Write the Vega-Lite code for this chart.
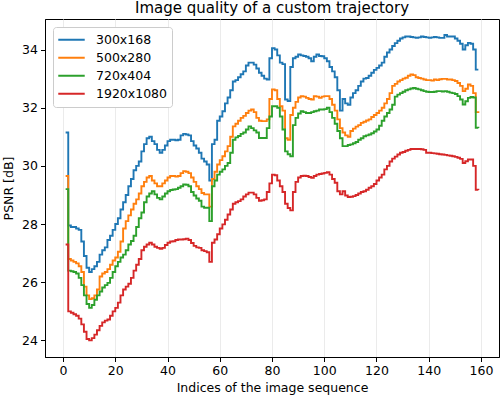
{
 "$schema": "https://vega.github.io/schema/vega-lite/v6.json",
 "width": 454,
 "height": 338,
 "autosize": {"type": "none"},
 "padding": {"left": 45, "top": 19, "right": 2, "bottom": 39},
 "background": "white",
 "title": {"text": "Image quality of a custom trajectory", "fontSize": 15, "font": "DejaVu Sans", "fontWeight": "normal", "color": "black", "anchor": "middle", "offset": 3},
 "config": {
  "view": {"stroke": "black", "strokeWidth": 1},
  "axis": {"domainColor": "black", "domainWidth": 1, "tickColor": "black", "tickSize": 4.5, "tickWidth": 1, "labelFont": "DejaVu Sans", "labelFontSize": 12.5, "labelColor": "black", "labelPadding": 3, "titleFont": "DejaVu Sans", "titleFontSize": 12.5, "titleFontWeight": "normal", "titleColor": "black", "gridColor": "#ebebeb", "gridWidth": 1, "labelFlush": false, "labelOverlap": false}
 },
 "data": {"values": [
{"i":1,"300x168":31.15,"500x280":29.65,"720x404":29.2,"1920x1080":27.3},
{"i":2,"300x168":27.95,"500x280":26.8,"720x404":26.4,"1920x1080":25.0},
{"i":3,"300x168":27.9,"500x280":26.75,"720x404":26.38,"1920x1080":24.95},
{"i":4,"300x168":27.9,"500x280":26.7,"720x404":26.35,"1920x1080":24.9},
{"i":5,"300x168":27.85,"500x280":26.65,"720x404":26.3,"1920x1080":24.85},
{"i":6,"300x168":27.8,"500x280":26.55,"720x404":26.15,"1920x1080":24.75},
{"i":7,"300x168":27.4,"500x280":26.35,"720x404":25.9,"1920x1080":24.55},
{"i":8,"300x168":26.9,"500x280":25.85,"720x404":25.55,"1920x1080":24.3},
{"i":9,"300x168":26.5,"500x280":25.55,"720x404":25.25,"1920x1080":24.05},
{"i":10,"300x168":26.35,"500x280":25.42,"720x404":25.12,"1920x1080":24.0},
{"i":11,"300x168":26.45,"500x280":25.45,"720x404":25.22,"1920x1080":24.08},
{"i":12,"300x168":26.55,"500x280":25.55,"720x404":25.4,"1920x1080":24.2},
{"i":13,"300x168":26.7,"500x280":25.75,"720x404":25.55,"1920x1080":24.35},
{"i":14,"300x168":26.95,"500x280":26.2,"720x404":25.68,"1920x1080":24.5},
{"i":15,"300x168":27.1,"500x280":26.3,"720x404":25.82,"1920x1080":24.62},
{"i":16,"300x168":27.2,"500x280":26.35,"720x404":25.9,"1920x1080":24.68},
{"i":17,"300x168":27.45,"500x280":26.45,"720x404":25.98,"1920x1080":24.72},
{"i":18,"300x168":27.6,"500x280":26.6,"720x404":26.15,"1920x1080":24.85},
{"i":19,"300x168":27.8,"500x280":26.75,"720x404":26.35,"1920x1080":25.0},
{"i":20,"300x168":28.0,"500x280":26.85,"720x404":26.55,"1920x1080":25.12},
{"i":21,"300x168":28.2,"500x280":27.05,"720x404":26.7,"1920x1080":25.3},
{"i":22,"300x168":28.5,"500x280":27.4,"720x404":26.85,"1920x1080":25.55},
{"i":23,"300x168":28.75,"500x280":27.85,"720x404":26.95,"1920x1080":25.75},
{"i":24,"300x168":29.0,"500x280":28.1,"720x404":27.1,"1920x1080":25.85},
{"i":25,"300x168":29.3,"500x280":28.3,"720x404":27.3,"1920x1080":25.95},
{"i":26,"300x168":29.55,"500x280":28.5,"720x404":27.42,"1920x1080":26.15},
{"i":27,"300x168":29.85,"500x280":28.7,"720x404":27.6,"1920x1080":26.4},
{"i":28,"300x168":30.0,"500x280":28.85,"720x404":27.9,"1920x1080":26.6},
{"i":29,"300x168":30.15,"500x280":29.05,"720x404":28.2,"1920x1080":26.8},
{"i":30,"300x168":30.5,"500x280":29.3,"720x404":28.4,"1920x1080":27.1},
{"i":31,"300x168":30.75,"500x280":29.45,"720x404":28.75,"1920x1080":27.22},
{"i":32,"300x168":30.95,"500x280":29.6,"720x404":28.95,"1920x1080":27.3},
{"i":33,"300x168":31.0,"500x280":29.65,"720x404":29.05,"1920x1080":27.36},
{"i":34,"300x168":30.85,"500x280":29.5,"720x404":29.13,"1920x1080":27.3},
{"i":35,"300x168":30.75,"500x280":29.4,"720x404":29.02,"1920x1080":27.22},
{"i":36,"300x168":30.55,"500x280":29.3,"720x404":28.9,"1920x1080":27.18},
{"i":37,"300x168":30.45,"500x280":29.3,"720x404":28.85,"1920x1080":27.15},
{"i":38,"300x168":30.55,"500x280":29.4,"720x404":28.95,"1920x1080":27.18},
{"i":39,"300x168":30.7,"500x280":29.5,"720x404":29.05,"1920x1080":27.28},
{"i":40,"300x168":30.85,"500x280":29.6,"720x404":29.13,"1920x1080":27.36},
{"i":41,"300x168":30.9,"500x280":29.65,"720x404":29.17,"1920x1080":27.4},
{"i":42,"300x168":30.9,"500x280":29.65,"720x404":29.19,"1920x1080":27.41},
{"i":43,"300x168":30.88,"500x280":29.63,"720x404":29.2,"1920x1080":27.45},
{"i":44,"300x168":30.9,"500x280":29.65,"720x404":29.25,"1920x1080":27.47},
{"i":45,"300x168":31.05,"500x280":29.75,"720x404":29.3,"1920x1080":27.47},
{"i":46,"300x168":31.1,"500x280":29.82,"720x404":29.36,"1920x1080":27.48},
{"i":47,"300x168":31.08,"500x280":29.8,"720x404":29.35,"1920x1080":27.5},
{"i":48,"300x168":31.05,"500x280":29.75,"720x404":29.3,"1920x1080":27.45},
{"i":49,"300x168":30.85,"500x280":29.6,"720x404":29.1,"1920x1080":27.35},
{"i":50,"300x168":30.7,"500x280":29.45,"720x404":28.98,"1920x1080":27.25},
{"i":51,"300x168":30.6,"500x280":29.3,"720x404":28.88,"1920x1080":27.2},
{"i":52,"300x168":30.45,"500x280":29.2,"720x404":28.8,"1920x1080":27.18},
{"i":53,"300x168":30.25,"500x280":29.07,"720x404":28.6,"1920x1080":27.1},
{"i":54,"300x168":30.15,"500x280":29.02,"720x404":28.56,"1920x1080":27.07},
{"i":55,"300x168":30.05,"500x280":29.02,"720x404":28.56,"1920x1080":27.03},
{"i":56,"300x168":29.5,"500x280":28.6,"720x404":28.1,"1920x1080":26.7},
{"i":57,"300x168":30.75,"500x280":29.55,"720x404":29.3,"1920x1080":27.36},
{"i":58,"300x168":30.9,"500x280":29.8,"720x404":29.5,"1920x1080":27.47},
{"i":59,"300x168":31.55,"500x280":30.05,"720x404":29.7,"1920x1080":27.65},
{"i":60,"300x168":31.7,"500x280":30.2,"720x404":29.8,"1920x1080":27.85},
{"i":61,"300x168":31.88,"500x280":30.33,"720x404":29.88,"1920x1080":27.99},
{"i":62,"300x168":32.15,"500x280":30.5,"720x404":30.0,"1920x1080":28.15},
{"i":63,"300x168":32.35,"500x280":30.68,"720x404":30.1,"1920x1080":28.33},
{"i":64,"300x168":32.6,"500x280":31.0,"720x404":30.45,"1920x1080":28.5},
{"i":65,"300x168":32.9,"500x280":31.36,"720x404":30.9,"1920x1080":28.7},
{"i":66,"300x168":32.95,"500x280":31.45,"720x404":30.98,"1920x1080":28.75},
{"i":67,"300x168":33.05,"500x280":31.55,"720x404":31.03,"1920x1080":28.79},
{"i":68,"300x168":33.15,"500x280":31.65,"720x404":31.1,"1920x1080":28.85},
{"i":69,"300x168":33.25,"500x280":31.72,"720x404":31.15,"1920x1080":28.95},
{"i":70,"300x168":33.45,"500x280":31.82,"720x404":31.25,"1920x1080":29.02},
{"i":71,"300x168":33.55,"500x280":31.9,"720x404":31.36,"1920x1080":29.08},
{"i":72,"300x168":33.55,"500x280":31.94,"720x404":31.3,"1920x1080":29.08},
{"i":73,"300x168":33.48,"500x280":31.85,"720x404":31.22,"1920x1080":29.02},
{"i":74,"300x168":33.35,"500x280":31.65,"720x404":31.15,"1920x1080":28.9},
{"i":75,"300x168":33.2,"500x280":31.55,"720x404":30.96,"1920x1080":28.8},
{"i":76,"300x168":33.1,"500x280":31.54,"720x404":30.96,"1920x1080":28.82},
{"i":77,"300x168":33.0,"500x280":31.54,"720x404":30.96,"1920x1080":28.85},
{"i":78,"300x168":32.97,"500x280":31.6,"720x404":31.3,"1920x1080":29.1},
{"i":79,"300x168":33.7,"500x280":32.3,"720x404":31.7,"1920x1080":29.4},
{"i":80,"300x168":34.05,"500x280":32.63,"720x404":32.05,"1920x1080":29.7},
{"i":81,"300x168":34.0,"500x280":32.6,"720x404":32.05,"1920x1080":29.68},
{"i":82,"300x168":33.8,"500x280":32.3,"720x404":32.0,"1920x1080":29.5},
{"i":83,"300x168":33.55,"500x280":32.05,"720x404":31.7,"1920x1080":29.3},
{"i":84,"300x168":33.5,"500x280":31.9,"720x404":31.25,"1920x1080":29.1},
{"i":85,"300x168":32.28,"500x280":30.95,"720x404":30.5,"1920x1080":28.7},
{"i":86,"300x168":32.23,"500x280":30.9,"720x404":30.4,"1920x1080":28.55},
{"i":87,"300x168":33.4,"500x280":31.75,"720x404":30.33,"1920x1080":28.47},
{"i":88,"300x168":33.7,"500x280":32.0,"720x404":31.4,"1920x1080":29.1},
{"i":89,"300x168":33.75,"500x280":32.2,"720x404":31.65,"1920x1080":29.45},
{"i":90,"300x168":33.83,"500x280":32.35,"720x404":31.8,"1920x1080":29.6},
{"i":91,"300x168":33.8,"500x280":32.4,"720x404":31.88,"1920x1080":29.65},
{"i":92,"300x168":33.78,"500x280":32.38,"720x404":31.85,"1920x1080":29.66},
{"i":93,"300x168":33.75,"500x280":32.34,"720x404":31.82,"1920x1080":29.65},
{"i":94,"300x168":33.7,"500x280":32.3,"720x404":31.82,"1920x1080":29.62},
{"i":95,"300x168":33.6,"500x280":32.28,"720x404":31.85,"1920x1080":29.59},
{"i":96,"300x168":33.75,"500x280":32.4,"720x404":31.88,"1920x1080":29.65},
{"i":97,"300x168":33.83,"500x280":32.38,"720x404":31.9,"1920x1080":29.7},
{"i":98,"300x168":33.78,"500x280":32.34,"720x404":31.94,"1920x1080":29.72},
{"i":99,"300x168":33.77,"500x280":32.38,"720x404":31.94,"1920x1080":29.74},
{"i":100,"300x168":33.7,"500x280":32.4,"720x404":31.95,"1920x1080":29.76},
{"i":101,"300x168":33.6,"500x280":32.4,"720x404":32.0,"1920x1080":29.78},
{"i":102,"300x168":33.4,"500x280":32.3,"720x404":31.85,"1920x1080":29.7},
{"i":103,"300x168":33.25,"500x280":32.1,"720x404":31.65,"1920x1080":29.55},
{"i":104,"300x168":33.05,"500x280":31.9,"720x404":31.45,"1920x1080":29.42},
{"i":105,"300x168":32.6,"500x280":31.6,"720x404":31.2,"1920x1080":29.13},
{"i":106,"300x168":31.9,"500x280":31.3,"720x404":30.95,"1920x1080":29.02},
{"i":107,"300x168":32.3,"500x280":31.15,"720x404":30.68,"1920x1080":29.13},
{"i":108,"300x168":32.15,"500x280":31.05,"720x404":30.68,"1920x1080":28.98},
{"i":109,"300x168":32.1,"500x280":31.0,"720x404":30.72,"1920x1080":28.93},
{"i":110,"300x168":32.35,"500x280":31.2,"720x404":30.74,"1920x1080":28.94},
{"i":111,"300x168":32.5,"500x280":31.28,"720x404":30.78,"1920x1080":28.96},
{"i":112,"300x168":32.6,"500x280":31.35,"720x404":30.82,"1920x1080":29.0},
{"i":113,"300x168":32.75,"500x280":31.4,"720x404":30.9,"1920x1080":29.05},
{"i":114,"300x168":32.9,"500x280":31.48,"720x404":30.95,"1920x1080":29.1},
{"i":115,"300x168":33.0,"500x280":31.52,"720x404":31.02,"1920x1080":29.13},
{"i":116,"300x168":33.02,"500x280":31.56,"720x404":31.05,"1920x1080":29.18},
{"i":117,"300x168":33.1,"500x280":31.6,"720x404":31.08,"1920x1080":29.25},
{"i":118,"300x168":33.2,"500x280":31.68,"720x404":31.12,"1920x1080":29.3},
{"i":119,"300x168":33.3,"500x280":31.75,"720x404":31.18,"1920x1080":29.38},
{"i":120,"300x168":33.37,"500x280":31.82,"720x404":31.25,"1920x1080":29.5},
{"i":121,"300x168":33.45,"500x280":31.9,"720x404":31.38,"1920x1080":29.6},
{"i":122,"300x168":33.55,"500x280":32.0,"720x404":31.55,"1920x1080":29.7},
{"i":123,"300x168":33.75,"500x280":32.15,"720x404":31.7,"1920x1080":29.88},
{"i":124,"300x168":33.9,"500x280":32.3,"720x404":31.82,"1920x1080":30.0},
{"i":125,"300x168":34.0,"500x280":32.5,"720x404":31.94,"1920x1080":30.15},
{"i":126,"300x168":34.12,"500x280":32.75,"720x404":32.1,"1920x1080":30.25},
{"i":127,"300x168":34.22,"500x280":32.82,"720x404":32.38,"1920x1080":30.32},
{"i":128,"300x168":34.3,"500x280":32.9,"720x404":32.45,"1920x1080":30.39},
{"i":129,"300x168":34.38,"500x280":32.95,"720x404":32.5,"1920x1080":30.45},
{"i":130,"300x168":34.42,"500x280":33.0,"720x404":32.55,"1920x1080":30.48},
{"i":131,"300x168":34.45,"500x280":33.03,"720x404":32.6,"1920x1080":30.52},
{"i":132,"300x168":34.45,"500x280":33.1,"720x404":32.63,"1920x1080":30.55},
{"i":133,"300x168":34.43,"500x280":33.14,"720x404":32.66,"1920x1080":30.58},
{"i":134,"300x168":34.42,"500x280":33.12,"720x404":32.68,"1920x1080":30.58},
{"i":135,"300x168":34.4,"500x280":33.05,"720x404":32.65,"1920x1080":30.58},
{"i":136,"300x168":34.42,"500x280":33.02,"720x404":32.63,"1920x1080":30.58},
{"i":137,"300x168":34.45,"500x280":33.0,"720x404":32.6,"1920x1080":30.57},
{"i":138,"300x168":34.43,"500x280":32.97,"720x404":32.57,"1920x1080":30.55},
{"i":139,"300x168":34.42,"500x280":32.95,"720x404":32.55,"1920x1080":30.45},
{"i":140,"300x168":34.4,"500x280":32.95,"720x404":32.54,"1920x1080":30.45},
{"i":141,"300x168":34.42,"500x280":32.93,"720x404":32.54,"1920x1080":30.44},
{"i":142,"300x168":34.43,"500x280":32.97,"720x404":32.55,"1920x1080":30.43},
{"i":143,"300x168":34.42,"500x280":32.95,"720x404":32.57,"1920x1080":30.42},
{"i":144,"300x168":34.4,"500x280":32.98,"720x404":32.57,"1920x1080":30.4},
{"i":145,"300x168":34.4,"500x280":32.99,"720x404":32.56,"1920x1080":30.39},
{"i":146,"300x168":34.5,"500x280":32.99,"720x404":32.57,"1920x1080":30.38},
{"i":147,"300x168":34.45,"500x280":32.97,"720x404":32.55,"1920x1080":30.36},
{"i":148,"300x168":34.45,"500x280":32.97,"720x404":32.52,"1920x1080":30.35},
{"i":149,"300x168":34.45,"500x280":32.95,"720x404":32.5,"1920x1080":30.33},
{"i":150,"300x168":34.38,"500x280":32.92,"720x404":32.47,"1920x1080":30.31},
{"i":151,"300x168":34.3,"500x280":32.85,"720x404":32.4,"1920x1080":30.28},
{"i":152,"300x168":34.2,"500x280":32.75,"720x404":32.28,"1920x1080":30.24},
{"i":153,"300x168":34.0,"500x280":32.57,"720x404":32.11,"1920x1080":30.1},
{"i":154,"300x168":34.15,"500x280":32.65,"720x404":32.22,"1920x1080":30.16},
{"i":155,"300x168":34.23,"500x280":32.8,"720x404":32.34,"1920x1080":30.22},
{"i":156,"300x168":34.2,"500x280":32.75,"720x404":32.37,"1920x1080":30.22},
{"i":157,"300x168":34.0,"500x280":32.5,"720x404":32.35,"1920x1080":30.0},
{"i":158,"300x168":33.31,"500x280":31.85,"720x404":31.31,"1920x1080":29.18},
{"i":159,"300x168":33.31,"500x280":31.82,"720x404":31.3,"1920x1080":29.17}
 ]},
 "transform": [{"fold": ["300x168", "500x280", "720x404", "1920x1080"], "as": ["res", "psnr"]}],
 "mark": {"type": "line", "interpolate": "step-after", "strokeWidth": 1.9},
 "encoding": {
  "x": {"field": "i", "type": "quantitative", "scale": {"domain": [-6.9, 166.9], "nice": false, "zero": false},
        "axis": {"values": [0, 20, 40, 60, 80, 100, 120, 140, 160], "title": "Indices of the image sequence", "grid": true, "titlePadding": 4}},
  "y": {"field": "psnr", "type": "quantitative", "scale": {"domain": [23.43, 35.05], "nice": false, "zero": false},
        "axis": {"values": [24, 26, 28, 30, 32, 34], "title": "PSNR [dB]", "grid": false, "titlePadding": 6}},
  "color": {"field": "res", "type": "nominal",
            "scale": {"domain": ["300x168", "500x280", "720x404", "1920x1080"], "range": ["#1f77b4", "#ff7f0e", "#2ca02c", "#d62728"]},
            "legend": {"title": null, "orient": "none", "legendX": 8, "legendY": 8, "symbolType": "stroke", "symbolSize": 700, "symbolStrokeWidth": 1.9, "clipHeight": 17.6, "labelFontSize": 12.5, "labelFont": "DejaVu Sans", "labelColor": "black", "labelOffset": 10, "padding": 4, "strokeColor": "#cccccc", "fillColor": "white", "cornerRadius": 3, "rowPadding": 0}}
 }
}
